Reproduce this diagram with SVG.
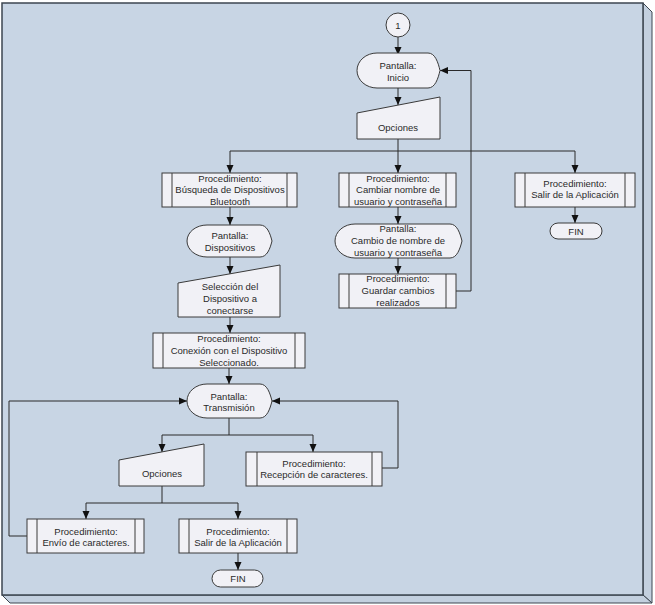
<svg xmlns="http://www.w3.org/2000/svg" width="655" height="605" viewBox="0 0 655 605">
<style>
.sh{fill:#f1f1f6;stroke:#3a3a3a;stroke-width:1}
.in{stroke:#3a3a3a;stroke-width:1;fill:none}
.t{font-family:"Liberation Sans",Arial,sans-serif;font-size:9.5px;fill:#2a2a2a;text-anchor:middle}
.c{fill:none;stroke:#2a2a2a;stroke-width:1}
</style>
<defs>
<marker id="ah" viewBox="0 0 8 8" refX="8" refY="4" markerWidth="8" markerHeight="8" markerUnits="userSpaceOnUse" orient="auto">
<path d="M0,0.5 L8,4 L0,7.5 Z" fill="#111"/>
</marker>
</defs>
<g id="frame">
<polygon points="643,3 652,12 652,603 643,595" fill="#c3d0df" stroke="#3c4650" stroke-width="1"/>
<polygon points="2,595 643,595 652,603 10,603" fill="#c3d0df" stroke="#3c4650" stroke-width="1"/>
<rect x="2" y="3" width="641" height="592" fill="#c8d5e4" stroke="#3c4650" stroke-width="1.5"/>
</g>
<g id="connectors">
<path class="c" d="M398,37 V55" marker-end="url(#ah)"/>
<path class="c" d="M398,88 V105" marker-end="url(#ah)"/>
<path class="c" d="M398,139 V151"/>
<path class="c" d="M230,151 H575"/>
<path class="c" d="M230,151 V173" marker-end="url(#ah)"/>
<path class="c" d="M398,151 V173" marker-end="url(#ah)"/>
<path class="c" d="M575,151 V173" marker-end="url(#ah)"/>
<path class="c" d="M230,207 V225" marker-end="url(#ah)"/>
<path class="c" d="M230,257 V274" marker-end="url(#ah)"/>
<path class="c" d="M230,316 V333" marker-end="url(#ah)"/>
<path class="c" d="M398,207 V224" marker-end="url(#ah)"/>
<path class="c" d="M398,258 V274" marker-end="url(#ah)"/>
<path class="c" d="M456,291 H471 V70.5 H440" marker-end="url(#ah)"/>
<path class="c" d="M575,207 V223" marker-end="url(#ah)"/>
<path class="c" d="M229,368 V384" marker-end="url(#ah)"/>
<path class="c" d="M229,418 V435"/>
<path class="c" d="M162,435 H313"/>
<path class="c" d="M162,435 V452" marker-end="url(#ah)"/>
<path class="c" d="M313,435 V452" marker-end="url(#ah)"/>
<path class="c" d="M382,468 H398 V401 H272" marker-end="url(#ah)"/>
<path class="c" d="M162,486 V503"/>
<path class="c" d="M86,503 H238"/>
<path class="c" d="M86,503 V519" marker-end="url(#ah)"/>
<path class="c" d="M238,503 V519" marker-end="url(#ah)"/>
<path class="c" d="M27,536 H9 V401 H187" marker-end="url(#ah)"/>
<path class="c" d="M238,553 V570" marker-end="url(#ah)"/>
</g>
<g id="n_start">
<circle class="sh" cx="398" cy="25" r="12"/>
<text class="t" x="398" y="28.5">1</text>
</g>
<g id="n_inicio">
<path class="sh" d="M377,53 H428 C435,53 438,62 440,70.5 C438,79 435,88 428,88 H377 A20,17.5 0 0 1 377,53 Z"/>
<text class="t" x="398" y="68.5">Pantalla:</text>
<text class="t" x="398" y="80.5">Inicio</text>
</g>
<g id="n_opciones1">
<polygon class="sh" points="357,113 440,97 440,139 357,139"/>
<text class="t" x="398" y="130.5">Opciones</text>
</g>
<g id="n_busqueda">
<rect class="sh" x="162" y="173" width="135" height="34"/>
<path class="in" d="M172,173 V207 M287,173 V207"/>
<text class="t" x="230" y="181.5">Procedimiento:</text>
<text class="t" x="230" y="193">Búsqueda de Dispositivos</text>
<text class="t" x="230" y="204.5">Bluetooth</text>
</g>
<g id="n_cambiar">
<rect class="sh" x="339" y="173" width="117" height="34"/>
<path class="in" d="M349,173 V207 M446,173 V207"/>
<text class="t" x="398" y="181.5">Procedimiento:</text>
<text class="t" x="398" y="193">Cambiar nombre de</text>
<text class="t" x="398" y="204.5">usuario y contraseña</text>
</g>
<g id="n_salir1">
<rect class="sh" x="515" y="173" width="120" height="34"/>
<path class="in" d="M525,173 V207 M625,173 V207"/>
<text class="t" x="575" y="186.5">Procedimiento:</text>
<text class="t" x="575" y="198">Salir de la Aplicación</text>
</g>
<g id="n_fin1">
<rect class="sh" x="550" y="223" width="52" height="16" rx="8" ry="8"/>
<text class="t" x="576" y="234.5">FIN</text>
</g>
<g id="n_dispositivos">
<path class="sh" d="M207,225 H260 C267,225 270,233 272,241 C270,249 267,257 260,257 H207 A20,16 0 0 1 207,225 Z"/>
<text class="t" x="230" y="238.5">Pantalla:</text>
<text class="t" x="230" y="250.5">Dispositivos</text>
</g>
<g id="n_seleccion">
<polygon class="sh" points="178,283 280,265 280,317 178,317"/>
<text class="t" x="230" y="289.5">Selección del</text>
<text class="t" x="230" y="301.5">Dispositivo a</text>
<text class="t" x="230" y="313.5">conectarse</text>
</g>
<g id="n_cambio">
<path class="sh" d="M355,224 H450 C457,224 460,233 462,241 C460,249 457,258 450,258 H355 A20,17 0 0 1 355,224 Z"/>
<text class="t" x="398" y="231.5">Pantalla:</text>
<text class="t" x="398" y="243.5">Cambio de nombre de</text>
<text class="t" x="398" y="255.5">usuario y contraseña</text>
</g>
<g id="n_guardar">
<rect class="sh" x="339" y="274" width="117" height="34"/>
<path class="in" d="M349,274 V308 M446,274 V308"/>
<text class="t" x="398" y="282">Procedimiento:</text>
<text class="t" x="398" y="294">Guardar cambios</text>
<text class="t" x="398" y="306">realizados</text>
</g>
<g id="n_conexion">
<rect class="sh" x="153" y="333" width="152" height="35"/>
<path class="in" d="M163,333 V368 M295,333 V368"/>
<text class="t" x="229" y="341.5">Procedimiento:</text>
<text class="t" x="229" y="353.5">Conexión con el Dispositivo</text>
<text class="t" x="229" y="365.5">Seleccionado.</text>
</g>
<g id="n_transmision">
<path class="sh" d="M207,384 H260 C267,384 270,393 272,401 C270,409 267,418 260,418 H207 A20,17 0 0 1 207,384 Z"/>
<text class="t" x="229" y="399.5">Pantalla:</text>
<text class="t" x="229" y="410.5">Transmisión</text>
</g>
<g id="n_opciones2">
<polygon class="sh" points="119,460 204,444 204,486 119,486"/>
<text class="t" x="162" y="476.5">Opciones</text>
</g>
<g id="n_recepcion">
<rect class="sh" x="246" y="452" width="136" height="34"/>
<path class="in" d="M257,452 V486 M372,452 V486"/>
<text class="t" x="314" y="466.5">Procedimiento:</text>
<text class="t" x="314" y="477.5">Recepción de caracteres.</text>
</g>
<g id="n_envio">
<rect class="sh" x="27" y="519" width="117" height="34"/>
<path class="in" d="M37,519 V553 M135,519 V553"/>
<text class="t" x="86" y="534.5">Procedimiento:</text>
<text class="t" x="86" y="545.5">Envío de caracteres.</text>
</g>
<g id="n_salir2">
<rect class="sh" x="179" y="519" width="118" height="34"/>
<path class="in" d="M189,519 V553 M287,519 V553"/>
<text class="t" x="238" y="534.5">Procedimiento:</text>
<text class="t" x="238" y="545.5">Salir de la Aplicación</text>
</g>
<g id="n_fin2">
<rect class="sh" x="212" y="570" width="51" height="17" rx="8.5" ry="8.5"/>
<text class="t" x="238" y="581.5">FIN</text>
</g>
</svg>
